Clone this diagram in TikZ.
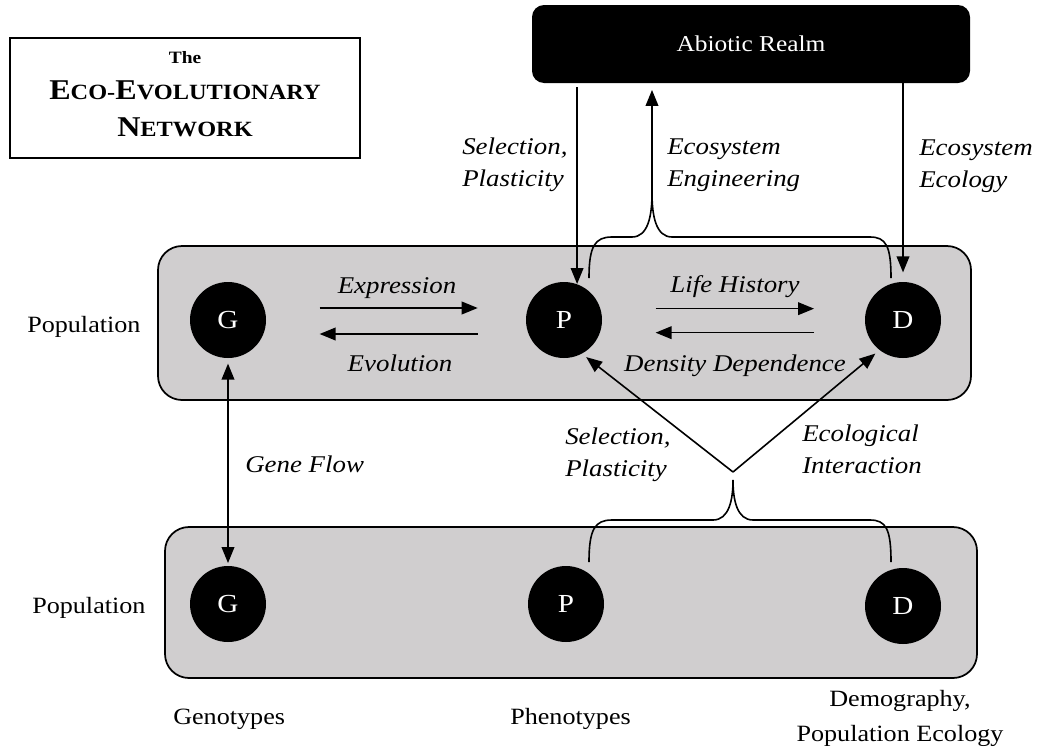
\documentclass[tikz,border=0pt]{standalone}
\usepackage{fontspec}
\setmainfont{Liberation Serif}[FakeStretch=1.12]
\usetikzlibrary{arrows.meta,calc}
\definecolor{boxgray}{RGB}{208,206,207}
\begin{document}
\begin{tikzpicture}[x=0.75pt,y=-0.75pt,
  lbl/.style={font=\fontsize{18}{23.5}\selectfont\itshape, inner sep=0pt, align=left},
  plain/.style={font=\fontsize{17.5}{26}\selectfont, inner sep=0pt},
  var/.style={circle, fill=black, minimum size=57pt, inner sep=0pt, text=white, font=\fontsize{19.5}{22}\selectfont},
  popbox/.style={draw=black, line width=1.3pt, fill=boxgray, rounded corners=18pt, inner sep=0pt},
  arr/.style={-{Triangle[length=12pt,width=9.5pt]}, line width=1.2pt},
  dblarr/.style={{Triangle[length=12pt,width=9.5pt]}-{Triangle[length=12pt,width=9.5pt]}, line width=1.2pt},
  brace/.style={line width=1.2pt}
]
\useasboundingbox (0,0) rectangle (1039,750);

% title
\node[draw=black, line width=1.3pt, minimum width=262.5pt, minimum height=90pt, inner sep=0pt] (titlebox) at (185,98) {};
\node[align=center, inner sep=0pt, anchor=north] (title) at (185,51)
  {\fontsize{13}{15}\selectfont\bfseries The\\[12pt]
   \bfseries\fontsize{21.5}{26}\selectfont E{\fontsize{16.3}{20}\selectfont CO-}E{\fontsize{16.3}{20}\selectfont VOLUTIONARY}\\[12.5pt]
   \bfseries\fontsize{21.5}{26}\selectfont N{\fontsize{16.3}{20}\selectfont ETWORK}};

% abiotic realm
\node[fill=black, rounded corners=9pt, minimum width=328.5pt, minimum height=58.5pt, inner sep=0pt,
      text=white, font=\fontsize{17}{20}\selectfont] (abiotic) at (751,44) {Abiotic Realm};

% population boxes
\node[popbox, minimum width=609.75pt, minimum height=115.5pt] (pop1) at (564.5,323) {};
\node[popbox, minimum width=609pt, minimum height=113.25pt] (pop2) at (571,602.5) {};

% variables
\node[var] (G1) at (228,320) {G};
\node[var] (P1) at (564,320) {P};
\node[var] (D1) at (903,320) {D};
\node[var] (G2) at (228,604) {G};
\node[var] (P2) at (566,604) {P};
\node[var] (D2) at (903,606) {D};

% side labels
\node[plain, anchor=base west] (lpop1) at (27,332) {Population};
\node[plain, anchor=base west] (lpop2) at (32,613) {Population};
\node[plain, anchor=base west] (lgeno) at (173,724) {Genotypes};
\node[plain, anchor=base west] (lpheno) at (510,724) {Phenotypes};
\node[plain, align=center, anchor=base] (ldemo) at (900,741) {Demography,\\Population Ecology};

% within-population arrows
\draw[arr] ([xshift=40pt,yshift=9pt]G1.east) -- ([xshift=-36pt,yshift=9pt]P1.west);
\draw[arr] ([xshift=-36pt,yshift=-10.5pt]P1.west) -- ([xshift=40pt,yshift=-10.5pt]G1.east);
\draw[arr] ([xshift=40pt,yshift=8.5pt]P1.east) -- ([xshift=-38pt,yshift=8.5pt]D1.west);
\draw[arr] ([xshift=-38pt,yshift=-9.5pt]D1.west) -- ([xshift=40pt,yshift=-9.5pt]P1.east);
\node[lbl, anchor=base] (lexpr) at (397,293) {Expression};
\node[lbl, anchor=base] (levol) at (400,371) {Evolution};
\node[lbl, anchor=base] (llife) at (735,292) {Life History};
\node[lbl, anchor=base] (ldens) at (735,371) {Density Dependence};

% upper brace (ecosystem engineering)
\coordinate (ubL) at (589,278);
\coordinate (ubT) at (652,193);
\coordinate (ubR) at (891,278);
\draw[brace] (ubL) .. controls (589,246) and (595,237) .. (612,237) -- (632,237)
  .. controls (648,237) and (652,216) .. (ubT)
  .. controls (652,216) and (656,237) .. (672,237) -- (870,237)
  .. controls (886,237) and (891,246) .. (ubR);
\draw[arr, shorten >=5pt] (ubT) -- (ubT |- abiotic.south);

% abiotic arrows
\draw[arr, shorten <=3pt] (P1.70 |- abiotic.south) -- (P1.70);
\draw[arr, shorten >=7pt] (D1.north |- abiotic.south) -- (D1.north);

\node[lbl, anchor=base west] (lsel1) at (462,186) {Selection,\\Plasticity};
\node[lbl, anchor=base west] (leng) at (667,186) {Ecosystem\\Engineering};
\node[lbl, anchor=base west] (leco) at (919,187) {Ecosystem\\Ecology};

% lower brace (ecological interaction)
\coordinate (lbL) at (589,562);
\coordinate (lbT) at (733,480);
\coordinate (lbR) at (891,562);
\coordinate (V) at (733,472);
\draw[brace] (lbL) .. controls (589,529) and (595,520) .. (612,520) -- (713,520)
  .. controls (729,520) and (733,500) .. (lbT)
  .. controls (733,500) and (737,520) .. (753,520) -- (870,520)
  .. controls (886,520) and (891,529) .. (lbR);
\draw[arr, shorten >=4pt] (V) -- (P1.-62);
\draw[arr, shorten >=4pt] (V) -- (D1.-128);
\node[lbl, anchor=base west] (lsel2) at (565,476) {Selection,\\Plasticity};
\node[lbl, anchor=base west] (linter) at (802,473) {Ecological\\Interaction};

% gene flow
\draw[dblarr, shorten <=4pt, shorten >=2pt] (G1) -- (G2);
\node[lbl, anchor=base west] (lgene) at (245,472) {Gene Flow};
\end{tikzpicture}
\end{document}
